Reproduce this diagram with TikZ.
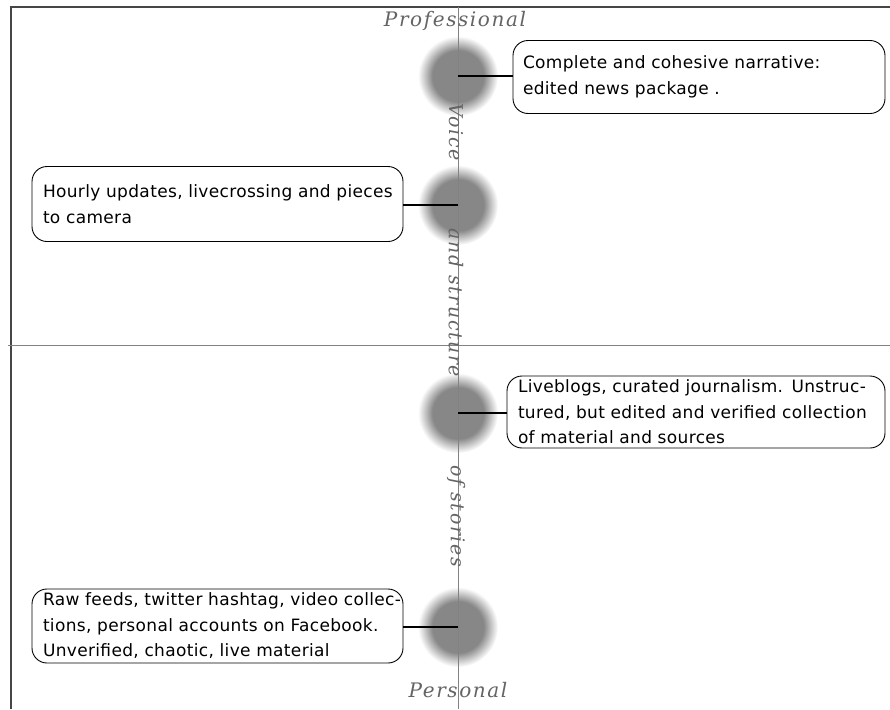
\documentclass[tikz,border=0pt]{standalone}
\usepackage{fontspec}
\setmainfont[LetterSpace=2]{DejaVu Sans}
\newfontfamily\axisfont[LetterSpace=8]{DejaVu Serif}
\definecolor{blobgray}{RGB}{135,135,135}
\definecolor{axisgray}{RGB}{130,130,130}
\definecolor{labelgray}{RGB}{100,100,100}
\definecolor{framegray}{RGB}{70,70,70}
% solid core that fades out towards the rim (rim = 25bp)
\pgfdeclareradialshading{softblob}{\pgfpoint{0bp}{0bp}}{%
  color(0bp)=(blobgray); color(16bp)=(blobgray); color(25bp)=(white); color(50bp)=(white)}
\begin{document}
\begin{tikzpicture}[x=1pt,y=-1pt,
  axisline/.style={draw=axisgray, line width=1pt},
  frameline/.style={draw=framegray, line width=1.4pt},
  blob/.style={circle, minimum size=80pt, inner sep=0pt, shade, shading=softblob},
  infobox/.style={draw=black, line width=0.9pt, rounded corners=15pt,
    align=left, inner ysep=0pt, font=\fontsize{17}{25.5}\selectfont},
  pole/.style={text=labelgray, font=\axisfont\itshape\fontsize{20}{20}\selectfont},
  spine/.style={text=labelgray, rotate=-90, font=\axisfont\itshape\fontsize{19}{19}\selectfont},
  link/.style={draw=black, line width=1.1pt}]
\useasboundingbox (0,0) rectangle (890,709);

% soft markers along the vertical axis
\node[blob] (c1) at (458,76) {};
\node[blob] (c2) at (458,205) {};
\node[blob] (c3) at (458,413) {};
\node[blob] (c4) at (458,627) {};

% frame on top and left
\coordinate (ftl) at (11,7);
\coordinate (ftr) at (890,7);
\coordinate (fbl) at (11,709);
\draw[frameline] (ftr) -- (ftl) -- (fbl);

% axes
\coordinate (vt) at (458,7);
\coordinate (vb) at (458,709);
\coordinate (hl) at (8,345);
\coordinate (hr) at (890,345);
\draw[axisline] (vt) -- (vb);
\draw[axisline] (hl) -- (hr);

% axis labels
\node[pole] (top) at (455,21) {Professional};
\node[pole] (bottom) at (458,690) {Personal};
\node[spine] (s1) at (456,132) {Voice};
\node[spine] (s2) at (456,303) {and structure};
\node[spine] (s3) at (456,516) {of stories};

% descriptive boxes
\node[infobox, minimum width=372pt, minimum height=73pt, text width=352pt, inner xsep=10pt]
  (b1) at (699,77) {\mbox{Complete and cohesive narrative:}\\\mbox{edited news package .}};
\node[infobox, minimum width=371pt, minimum height=75pt, text width=349pt, inner xsep=11pt]
  (b2) at (217.5,204) {\mbox{Hourly updates, livecrossing and pieces}\\\mbox{to camera}};
\node[infobox, minimum width=378pt, minimum height=72pt, text width=356pt, inner xsep=11pt]
  (b3) at (696,412) {\mbox{Liveblogs, curated journalism. Unstruc-}\\\mbox{tured, but edited and verified collection}\\\mbox{of material and sources}};
\node[infobox, minimum width=371pt, minimum height=74pt, text width=349pt, inner xsep=11pt]
  (b4) at (217.5,626) {\mbox{Raw feeds, twitter hashtag, video collec-}\\\mbox{tions, personal accounts on Facebook.}\\\mbox{Unverified, chaotic, live material}};

% connectors from markers to boxes
\draw[link] (c1.center) -- (b1.west |- c1.center);
\draw[link] (c2.center) -- (b2.east |- c2.center);
\draw[link] (c3.center) -- (b3.west |- c3.center);
\draw[link] (c4.center) -- (b4.east |- c4.center);
\end{tikzpicture}
\end{document}
